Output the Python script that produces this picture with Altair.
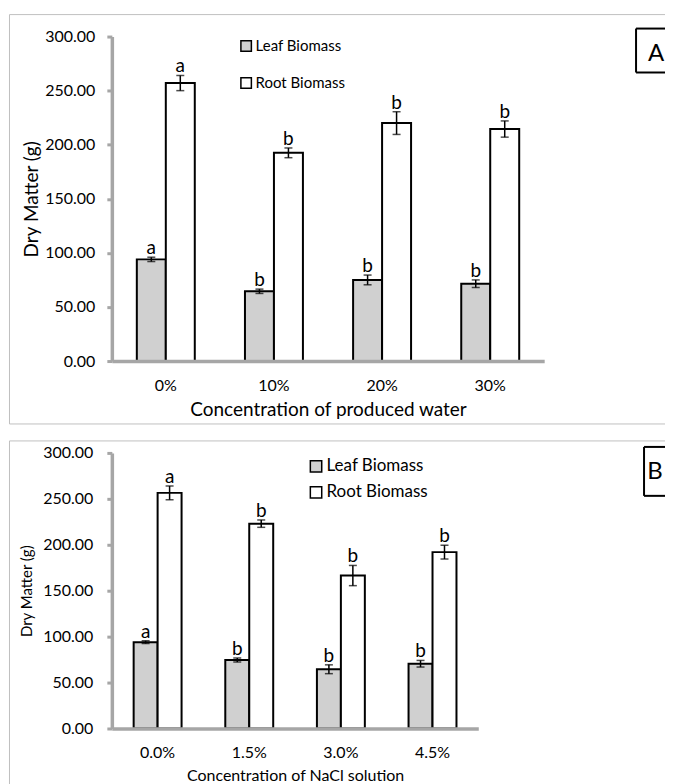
import altair as alt
import pandas as pd

# ---------------- data ----------------
series = ["Leaf Biomass", "Root Biomass"]
colors = ["#d0d0d0", "#ffffff"]
y_ticks = [0, 50, 100, 150, 200, 250, 300]

cats_a = ["0%", "10%", "20%", "30%"]
leaf_a = [94.0, 64.5, 75.0, 71.5]
leaf_err_a = [2.0, 2.0, 4.5, 3.5]
root_a = [257.0, 192.5, 220.0, 214.5]
root_err_a = [7.0, 4.5, 10.5, 7.5]
leaf_let_a = ["a", "b", "b", "b"]
root_let_a = ["a", "b", "b", "b"]

cats_b = ["0.0%", "1.5%", "3.0%", "4.5%"]
leaf_b = [94.0, 74.5, 64.5, 70.5]
leaf_err_b = [1.5, 2.2, 4.8, 3.6]
root_b = [256.5, 223.0, 166.5, 192.0]
root_err_b = [7.5, 4.0, 11.0, 7.5]
leaf_let_b = ["a", "b", "b", "b"]
root_let_b = ["a", "b", "b", "b"]

FONT = "Lato"
AXIS_GRAY = "#a6a6a6"
FRAME_GRAY = "#c0c0c0"


def make_df(cats, leaf, leaf_err, root, root_err, leaf_let, root_let):
    rows = []
    for i, c in enumerate(cats):
        rows.append(dict(cat=c, series=series[0], value=leaf[i],
                         lo=leaf[i] - leaf_err[i], hi=leaf[i] + leaf_err[i],
                         letter=leaf_let[i]))
        rows.append(dict(cat=c, series=series[1], value=root[i],
                         lo=root[i] - root_err[i], hi=root[i] + root_err[i],
                         letter=root_let[i]))
    return pd.DataFrame(rows)


one = pd.DataFrame({"d": [0]})


def hline(x1, x2, y, color, width):
    return alt.Chart(one).mark_rule(color=color, strokeWidth=width).encode(
        x=alt.value(x1), x2=alt.value(x2), y=alt.value(y))


def vline(x, y1, y2, color, width):
    return alt.Chart(one).mark_rule(color=color, strokeWidth=width).encode(
        x=alt.value(x), y=alt.value(y1), y2=alt.value(y2))


def panel(df, cats, W, H, p):
    x = alt.X("cat:N", sort=cats,
              scale=alt.Scale(paddingInner=p["pi"], paddingOuter=p["po"]),
              axis=alt.Axis(title=p["xtitle"], labelAngle=0, ticks=False,
                            domainColor=AXIS_GRAY, domainWidth=3.5, zindex=1,
                            labelFont=FONT, labelFontSize=16, labelColor="black",
                            labelPadding=p["xlp"], titleFont=FONT,
                            titleFontSize=p["xtfs"], titleFontWeight="normal",
                            titleColor="black", titlePadding=p["xtp"]))
    xo = alt.XOffset("series:N", sort=series,
                     scale=alt.Scale(paddingInner=0, paddingOuter=0))
    yaxis = alt.Axis(values=y_ticks, format=".2f", title="Dry Matter (g)",
                     grid=False, domainColor=AXIS_GRAY, domainWidth=3.5,
                     tickColor=AXIS_GRAY, tickWidth=3, tickSize=5,
                     labelFont=FONT, labelFontSize=16, labelColor="black",
                     labelPadding=p["ylp"], titleFont=FONT,
                     titleFontSize=p["ytfs"], titleFontWeight="normal",
                     titleColor="black", titlePadding=p["ytp"])
    yscale = alt.Scale(domain=[0, 300], nice=False)

    base = alt.Chart(df)
    bars = base.mark_bar(stroke="black", strokeWidth=2).encode(
        x=x, xOffset=xo,
        y=alt.Y("value:Q", scale=yscale, axis=yaxis),
        fill=alt.Fill("series:N", sort=series,
                      scale=alt.Scale(domain=series, range=colors),
                      legend=alt.Legend(title=None, orient="none",
                                        legendX=p["lx"], legendY=p["ly"],
                                        symbolType="square",
                                        symbolSize=p["ss"],
                                        symbolStrokeColor="black",
                                        symbolStrokeWidth=1.5,
                                        symbolOpacity=1,
                                        labelFont=FONT,
                                        labelFontSize=p["lfs"],
                                        labelColor="black",
                                        labelOffset=p["lo"],
                                        rowPadding=p["rp"],
                                        padding=0)))
    err = base.mark_rule(color="black", strokeWidth=1.5).encode(
        x=x, xOffset=xo,
        y=alt.Y("lo:Q", scale=yscale, axis=yaxis), y2="hi:Q")
    cap_lo = base.mark_tick(color="black", thickness=1.5, size=8).encode(
        x=x, xOffset=xo, y=alt.Y("lo:Q", scale=yscale, axis=yaxis))
    cap_hi = base.mark_tick(color="black", thickness=1.5, size=8).encode(
        x=x, xOffset=xo, y=alt.Y("hi:Q", scale=yscale, axis=yaxis))
    letters = base.mark_text(baseline="alphabetic", dy=-3, font=FONT,
                             fontSize=19, color="black").encode(
        x=x, xOffset=xo, y=alt.Y("hi:Q", scale=yscale, axis=yaxis),
        text="letter:N")

    f = p["frame"]
    deco = [
        vline(f["l"], f["t"], f["b"], FRAME_GRAY, 1),
        hline(f["l"], f["r"], f["t"], FRAME_GRAY, 1),
    ]
    if f.get("bottom", True):
        deco.append(hline(f["l"], f["r"], f["b"], FRAME_GRAY, 1))
    bx = p["box"]
    deco += [
        vline(bx["l"], bx["t"], bx["b"], "black", 2),
        hline(bx["l"], f["r"], bx["t"], "black", 2),
        hline(bx["l"], f["r"], bx["b"], "black", 2),
        alt.Chart(one).mark_text(font=FONT, fontSize=24, color="black",
                                 align="center", baseline="middle").encode(
            x=alt.value(bx["tx"]), y=alt.value(bx["ty"]),
            text=alt.value(bx["label"])),
    ]
    return alt.layer(bars, err, cap_lo, cap_hi, letters, *deco).properties(
        width=W, height=H)


df_a = make_df(cats_a, leaf_a, leaf_err_a, root_a, root_err_a, leaf_let_a, root_let_a)
df_b = make_df(cats_b, leaf_b, leaf_err_b, root_b, root_err_b, leaf_let_b, root_let_b)

RIGHT = 554

pa = dict(pi=0.464, po=0.231, xtitle="Concentration of produced water",
          xlp=16, xtfs=19, xtp=8, ylp=12, ytfs=19, ytp=3,
          lx=127, ly=2, ss=110, lfs=15, lo=2, rp=20,
          frame=dict(l=-102.5, r=RIGHT, t=-22, b=388),
          box=dict(l=525, t=-8, b=36, tx=545, ty=17, label="A"))
pb = dict(pi=0.477, po=0.238, xtitle="Concentration of NaCl solution",
          xlp=16, xtfs=16, xtp=7, ylp=14, ytfs=15, ytp=8,
          lx=196, ly=5, ss=130, lfs=17, lo=2, rp=7,
          frame=dict(l=-102.5, r=RIGHT, t=-12, b=332, bottom=False),
          box=dict(l=533, t=-6, b=43, tx=544, ty=19.5, label="B"))

top = panel(df_a, cats_a, 433, 325, pa)
bottom = panel(df_b, cats_b, 367, 276, pb)

chart = alt.vconcat(top, bottom, spacing=92, bounds="flush").resolve_scale(
    fill="independent", xOffset="independent").properties(
    padding={"left": 1, "top": 5, "right": 0, "bottom": 0}
).configure_view(stroke=None)

chart.save("out.html", embed_options={"renderer": "svg", "actions": False})
